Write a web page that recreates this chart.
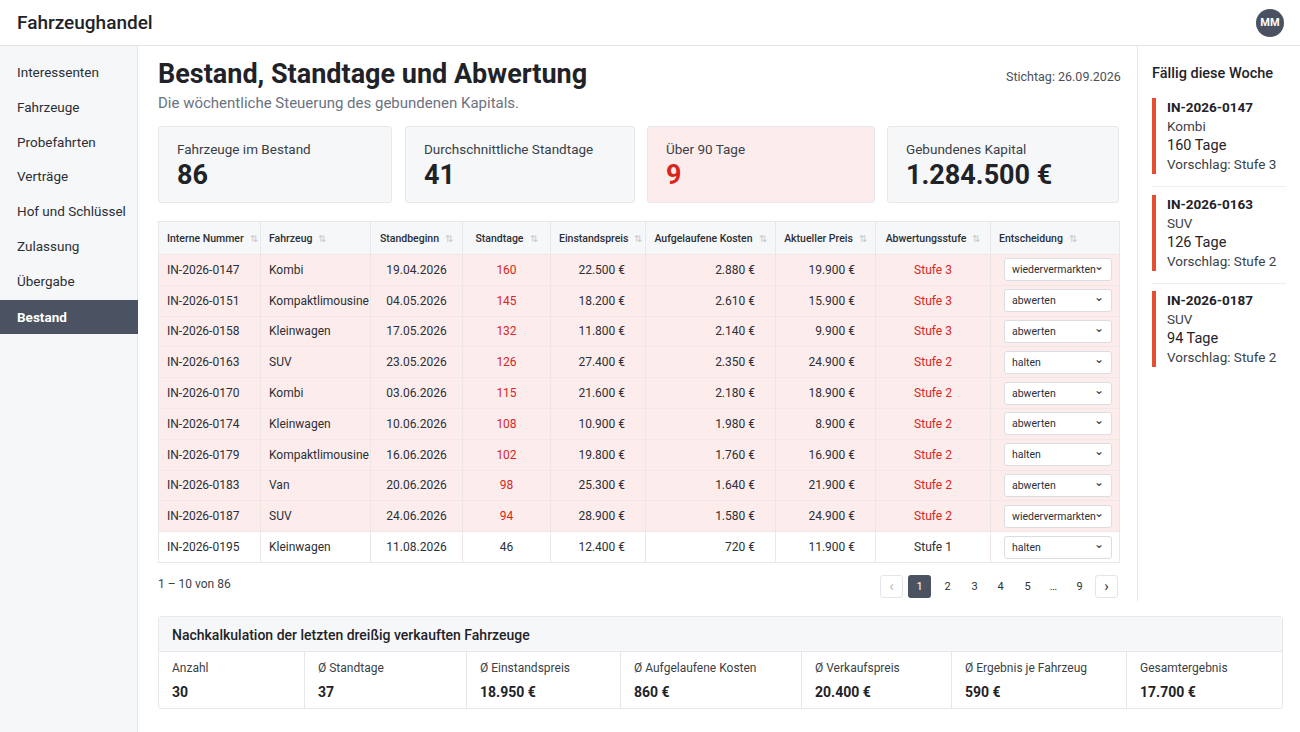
<!DOCTYPE html>
<html lang="de"><head><meta charset="utf-8">
<script src="https://cdn.jsdelivr.net/npm/chart.js@4"></script>
<style>
*{box-sizing:border-box}
body{margin:0;width:1300px;height:732px;overflow:hidden;font-family:Roboto,"Noto Sans",sans-serif;color:#1f2328;background:#fff}
#top{position:absolute;left:0;top:0;width:1300px;height:46px;border-bottom:1px solid #e3e5e8;background:#fff}
#top .t{position:absolute;left:17px;top:11px;font-size:19px;font-weight:500}
#top .av{position:absolute;left:1256px;top:9px;width:28px;height:28px;border-radius:50%;background:#4a5160;color:#fff;font-size:11px;font-weight:700;text-align:center;line-height:28px}
#side{position:absolute;left:0;top:46px;width:138px;height:686px;background:#f6f7f9;border-right:1px solid #e3e5e8}
#side div{position:absolute;left:17px;font-size:13.5px;color:#2b2f36}
#side .act{left:0;width:138px;height:34px;background:#4b5261;color:#fff;font-weight:700;padding:9px 17px}
h1{position:absolute;left:158px;top:58px;margin:0;font-size:27px;font-weight:700}
.sub{position:absolute;left:158px;top:94px;font-size:15px;color:#6b7280}
.stich{position:absolute;left:1006px;top:69px;font-size:12.5px;color:#4b5058}
.kpi{position:absolute;top:126px;height:77px;border:1px solid #e6e8eb;border-radius:3px;background:#f6f7f9}
.kpi .l{position:absolute;left:18px;top:14px;font-size:13.5px;color:#3a3f47}
.kpi .v{position:absolute;left:18px;top:32px;font-size:27px;font-weight:700}
.kpi.red{background:#fdecec}.kpi.red .v{color:#d9251c}
table{position:absolute;left:158px;top:221px;width:961px;table-layout:fixed;border-collapse:collapse;font-size:12px;border:1px solid #e6e8eb}
th{height:33px;font-weight:500;font-size:10.5px;background:#f6f7f9;border-right:1px solid #e6e8eb;color:#2b2f36;padding:0 8px;white-space:nowrap}
td{height:30.8px;border-right:1px solid #eee5e5;border-top:1px solid #f2e6e6;padding:0 8px;color:#2b2f36;white-space:nowrap}
tr.r td{background:#fdecec}
.s{color:#c9c9c9;font-size:10px;margin-left:6px}
.red{color:#d9251c}
.sel{width:108px;height:23px;border:1px solid #dadde1;border-radius:3px;background:#fff;font-size:10.5px;padding:4px 7px;position:relative}
.sel:after{content:"⌄";position:absolute;right:7px;top:0px;font-size:12px}
.pg{position:absolute;top:575px;width:23px;height:23px;font-size:11px;text-align:center;line-height:23px;color:#2b2f36}
#right{position:absolute;left:1137px;top:46px;width:163px;height:555px;border-left:1px solid #e6e8eb}
#right .h{position:absolute;left:14px;top:19px;font-size:14.5px;font-weight:500}
.due{position:absolute;left:14px;width:134px;border-left:4px solid #e4502f;padding-left:11px;font-size:13.5px;line-height:19px;color:#3a3f47}
.due b{color:#1f2328}
#nk{position:absolute;left:158px;top:616px;width:1125px;height:93px;border:1px solid #e6e8eb;border-radius:3px}
#nk .h{height:35px;background:#f6f7f9;border-bottom:1px solid #e6e8eb;font-size:14px;font-weight:500;padding:10px 13px}
.c{position:absolute;top:35px;height:57px;border-right:1px solid #e6e8eb;padding:9px 13px}
.c .l{font-size:12px;color:#3a3f47}.c .v{font-size:14px;font-weight:700;margin-top:9px}
</style></head><body>
<div id="top"><div class="t">Fahrzeughandel</div><div class="av">MM</div></div>
<div id="side"></div>
<h1>Bestand, Standtage und Abwertung</h1>
<div class="sub">Die wöchentliche Steuerung des gebundenen Kapitals.</div>
<div class="stich">Stichtag: 26.09.2026</div>
<table id="tb"></table>
<div style="position:absolute;left:158px;top:577px;font-size:12px;color:#3a3f47">1 – 10 von 86</div>
<div id="right"><div class="h">Fällig diese Woche</div></div>
<div id="nk"><div class="h">Nachkalkulation der letzten dreißig verkauften Fahrzeuge</div></div>
<script>
const navItems=["Interessenten","Fahrzeuge","Probefahrten","Verträge","Hof und Schlüssel","Zulassung","Übergabe","Bestand"];
const kpiLabels=["Fahrzeuge im Bestand","Durchschnittliche Standtage","Über 90 Tage","Gebundenes Kapital"];
const kpiValues=["86","41","9","1.284.500 €"];
const columns=["Interne Nummer","Fahrzeug","Standbeginn","Standtage","Einstandspreis","Aufgelaufene Kosten","Aktueller Preis","Abwertungsstufe","Entscheidung"];
const ids=["IN-2026-0147","IN-2026-0151","IN-2026-0158","IN-2026-0163","IN-2026-0170","IN-2026-0174","IN-2026-0179","IN-2026-0183","IN-2026-0187","IN-2026-0195"];
const vehicles=["Kombi","Kompaktlimousine","Kleinwagen","SUV","Kombi","Kleinwagen","Kompaktlimousine","Van","SUV","Kleinwagen"];
const starts=["19.04.2026","04.05.2026","17.05.2026","23.05.2026","03.06.2026","10.06.2026","16.06.2026","20.06.2026","24.06.2026","11.08.2026"];
const days=[160,145,132,126,115,108,102,98,94,46];
const costPrice=["22.500 €","18.200 €","11.800 €","27.400 €","21.600 €","10.900 €","19.800 €","25.300 €","28.900 €","12.400 €"];
const accrued=["2.880 €","2.610 €","2.140 €","2.350 €","2.180 €","1.980 €","1.760 €","1.640 €","1.580 €","720 €"];
const current=["19.900 €","15.900 €","9.900 €","24.900 €","18.900 €","8.900 €","16.900 €","21.900 €","24.900 €","11.900 €"];
const stages=["Stufe 3","Stufe 3","Stufe 3","Stufe 2","Stufe 2","Stufe 2","Stufe 2","Stufe 2","Stufe 2","Stufe 1"];
const decisions=["wiedervermarkten","abwerten","abwerten","halten","abwerten","abwerten","halten","abwerten","wiedervermarkten","halten"];
const pages=["‹","1","2","3","4","5","…","9","›"];
const dueIds=["IN-2026-0147","IN-2026-0163","IN-2026-0187"],dueTypes=["Kombi","SUV","SUV"],dueDays=["160 Tage","126 Tage","94 Tage"],dueProp=["Stufe 3","Stufe 2","Stufe 2"];
const nkLabels=["Anzahl","Ø Standtage","Ø Einstandspreis","Ø Aufgelaufene Kosten","Ø Verkaufspreis","Ø Ergebnis je Fahrzeug","Gesamtergebnis"];
const nkValues=["30","37","18.950 €","860 €","20.400 €","590 €","17.700 €"];

const side=document.getElementById('side');
navItems.forEach((n,i)=>{const d=document.createElement('div');d.textContent=n;if(i==7){d.className='act';d.style.top='254px'}else d.style.top=(18+i*34.8)+'px';side.appendChild(d)});
const kx=[158,405,647,887],kw=[234,230,228,232];
kpiLabels.forEach((l,i)=>{document.body.insertAdjacentHTML('beforeend',`<div class="kpi${i==2?' red':''}" style="left:${kx[i]}px;width:${kw[i]}px"><div class="l">${l}</div><div class="v">${kpiValues[i]}</div></div>`)});
const cw=[102,110,92,88,95,130,100,115,129],al=['left','left','center','center','right','right','right','center','left'];
let h='<colgroup>'+cw.map(w=>`<col style="width:${w}px">`).join('')+'</colgroup><tr>'+columns.map((c,i)=>`<th style="text-align:${['left','left','center','center','center','center','center','center','left'][i]}">${c}<span class="s">⇅</span></th>`).join('')+'</tr>';
ids.forEach((id,r)=>{const red=days[r]>90;const v=[id,vehicles[r],starts[r],days[r],costPrice[r],accrued[r],current[r],stages[r],`<div class="sel">${decisions[r]}</div>`];
h+=`<tr class="${red?'r':''}">`+v.map((x,i)=>`<td style="text-align:${al[i]};${i==8?'padding:0 5px 0 13px;':''}${i>=4&&i<=6?'padding-right:20px;':''}" class="${red&&(i==3||i==7)?'red':''}">${x}</td>`).join('')+'</tr>'});
document.getElementById('tb').innerHTML=h;
const px=[880,908,936,963,989,1016,1042,1068,1095];
pages.forEach((p,i)=>{document.body.insertAdjacentHTML('beforeend',`<div class="pg" style="left:${px[i]}px;${i==1?'background:#4b5261;color:#fff;border-radius:3px;':''}${i==0||i==8?'border:1px solid #e3e5e8;border-radius:3px;font-size:15px;line-height:20px;':''}${i==0?'color:#bbb;':''}">${p}</div>`)});
const rt=document.getElementById('right');
dueIds.forEach((d,i)=>{rt.insertAdjacentHTML('beforeend',`<div class="due" style="top:${52+i*96.5}px"><b>${d}</b><br>${dueTypes[i]}<br><span style="color:#1f2328;font-size:14.5px">${dueDays[i]}</span><br>Vorschlag: ${dueProp[i]}</div>`);
 if(i<2) rt.insertAdjacentHTML('beforeend',`<div style="position:absolute;left:14px;top:${140+i*96.5}px;width:134px;border-top:1px solid #eceef0"></div>`)});
const nx=[0,146,308,462,643,793,968],nw=[146,162,154,181,150,175,157];
const nk=document.getElementById('nk');
nkLabels.forEach((l,i)=>nk.insertAdjacentHTML('beforeend',`<div class="c" style="left:${nx[i]}px;width:${nw[i]}px;${i==6?'border-right:none':''}"><div class="l">${l}</div><div class="v">${nkValues[i]}</div></div>`));
</script></body></html>
